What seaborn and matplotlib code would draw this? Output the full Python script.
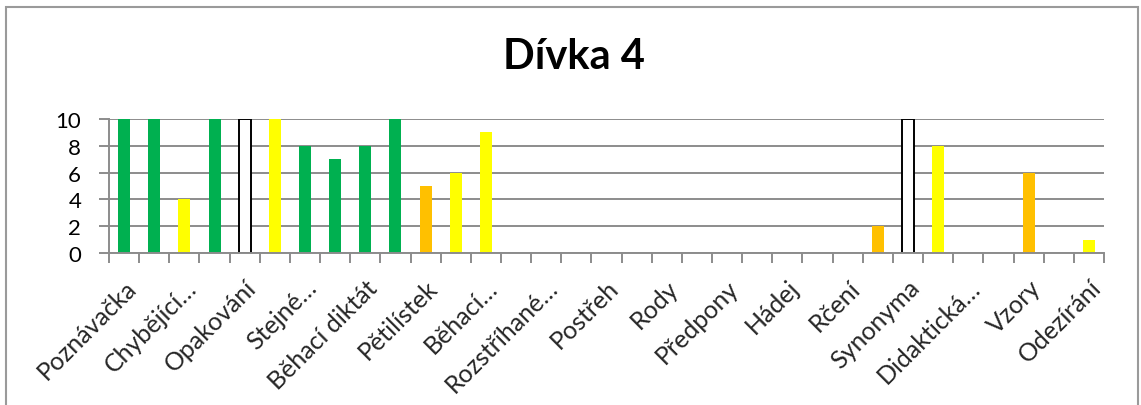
import matplotlib
matplotlib.use("Agg")
import matplotlib.pyplot as plt
import matplotlib.patches as mpatches
import matplotlib.transforms as mtransforms
from matplotlib.ticker import MultipleLocator, FixedLocator
import numpy as np
import pandas as pd
import seaborn as sns

# Scores per activity (33 activities; every second one carries a visible label)
scores = [10, 10, 4, 10, 10, 10, 8, 7, 8, 10, 5, 6, 9,
          0, 0, 0, 0, 0, 0, 0, 0, 0, 0, 0, 0,
          2, 10, 8, 0, 0, 6, 0, 1]
# Rating tier of each bar: g = green, y = yellow, o = orange, x = outlined, n = none
tiers = ["g", "g", "y", "g", "x", "y", "g", "g", "g", "g", "o", "y", "y",
         "n", "n", "n", "n", "n", "n", "n", "n", "n", "n", "n", "n",
         "o", "x", "y", "n", "n", "o", "n", "y"]
shown_labels = ["Poznávačka", "Chybějící…", "Opakování", "Stejné…", "Běhací diktát",
                "Pětilístek", "Běhací…", "Rozstříhané…", "Postřeh", "Rody",
                "Předpony", "Hádej", "Rčení", "Synonyma", "Didaktická…",
                "Vzory", "Odezírání"]
title = "Dívka 4"

fill = {"g": "#00B050", "y": "#FFFF00", "o": "#FFC000", "x": "#FFFFFF", "n": "#FFFFFF"}

sns.set_theme(style="white")
plt.rcParams["font.family"] = ["Lato", "DejaVu Sans"]

fig = plt.figure(figsize=(11.41, 4.06), dpi=100)
W, H = 1141, 406
ax = fig.add_axes([109 / W, 1 - 254 / H, (1104 - 109) / W, (254 - 120) / H])

df = pd.DataFrame({"pos": np.arange(len(scores)), "score": scores})
palette = [fill[t] for t in tiers]
sns.barplot(data=df, x="pos", y="score", hue="pos", palette=palette,
            legend=False, width=0.4, saturation=1, ax=ax, zorder=3)

for cont, t in zip(ax.containers, tiers):
    for bar in cont:
        bar.set_linewidth(0)
        if t == "x":
            bar.set_facecolor("white")
            bar.set_edgecolor("black")
            bar.set_linewidth(1.4)

grid_c = "#8C8C8C"
ax.set_ylim(0, 10)
ax.set_xlim(-0.5, len(scores) - 0.5)
ax.yaxis.set_major_locator(MultipleLocator(2))
ax.grid(axis="y", color=grid_c, linewidth=1.4, zorder=0)
ax.set_axisbelow(True)
ax.set_xlabel("")
ax.set_ylabel("")

for side in ["top", "right"]:
    ax.spines[side].set_visible(False)
for side in ["left", "bottom"]:
    ax.spines[side].set_color(grid_c)
    ax.spines[side].set_linewidth(1.4)
    ax.spines[side].set_zorder(4)

ax.set_xticks(np.arange(0, len(scores), 2))
ax.set_xticklabels(shown_labels, rotation=45, ha="right", va="top",
                   rotation_mode="anchor", fontsize=18)
shift = mtransforms.ScaledTranslation(-2 / 100, 0, fig.dpi_scale_trans)
for lab in ax.get_xticklabels():
    lab.set_transform(lab.get_transform() + shift)
ax.xaxis.set_minor_locator(FixedLocator(np.arange(-0.5, len(scores), 1)))
ax.tick_params(axis="x", which="major", length=0, pad=16)
ax.tick_params(axis="x", which="minor", length=7, width=1.4, color=grid_c,
               direction="out", bottom=True)
ax.tick_params(axis="y", which="major", length=7, width=1.4, color=grid_c,
               direction="out", left=True, labelsize=16, pad=13)
for lab in ax.get_yticklabels():
    lab.set_color("black")

fig.text(0.503, 1 - 57 / H, title, ha="center", va="center",
         fontsize=30, fontweight="bold", color="black")

# Chart area frame
frame = mpatches.Rectangle((6 / W, -0.05), (1138 - 6) / W, 1.05 - 8 / H,
                           transform=fig.transFigure, fill=False,
                           edgecolor="#9A9A9A", linewidth=1.5, clip_on=False)
fig.patches.append(frame)

fig.savefig("out.png", dpi=100)
